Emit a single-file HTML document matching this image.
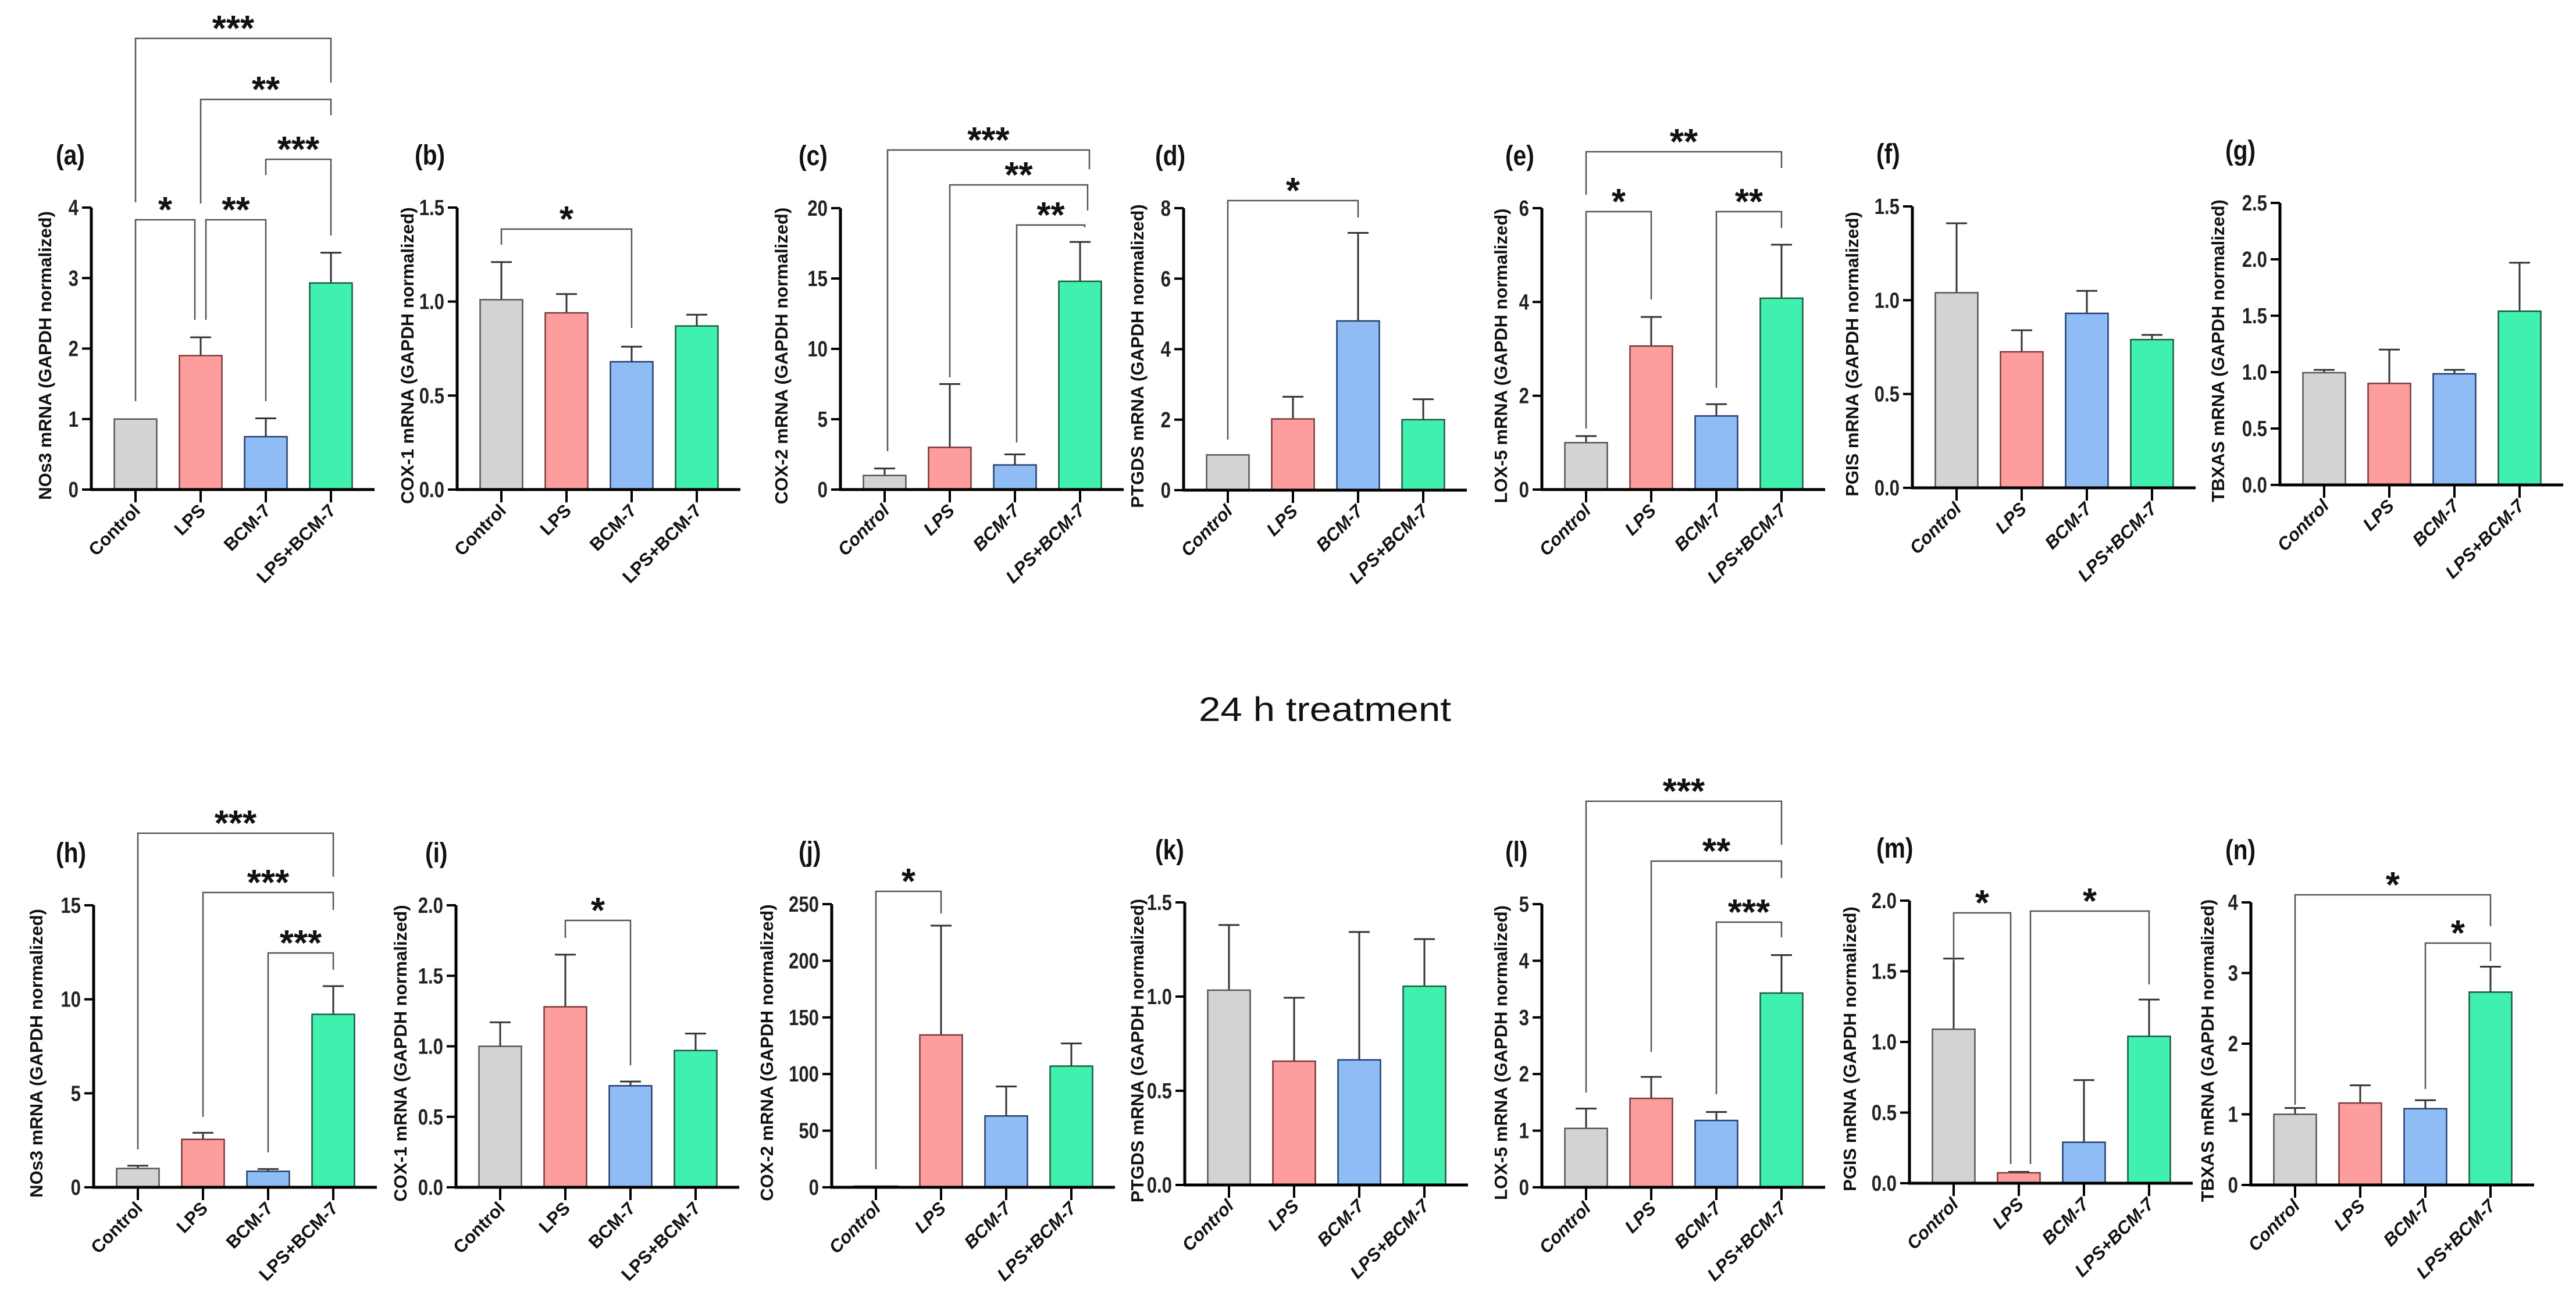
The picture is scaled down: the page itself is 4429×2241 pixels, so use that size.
<!DOCTYPE html>
<html><head><meta charset="utf-8"><title>mRNA expression panels</title>
<style>html,body{margin:0;padding:0;background:#fff;}svg{display:block;font-family:"Liberation Sans",Arial,sans-serif;}</style>
</head><body>
<svg id="fig" width="4429" height="2241" viewBox="0 0 4429 2241" xmlns="http://www.w3.org/2000/svg">
<rect width="4429" height="2241" fill="#fff"/>
<text x="2061" y="1240" font-size="58" fill="#111" textLength="434" lengthAdjust="spacingAndGlyphs">24 h treatment</text>
</svg>
<script>
const categories = ["Control","LPS","BCM-7","LPS+BCM-7"];
// values / error tops (null = no error bar)
const valsA = [1.0, 1.9, 0.75, 2.93];   const errA = [null, 2.16, 1.01, 3.36];
const valsB = [1.01, 0.94, 0.68, 0.87]; const errB = [1.21, 1.04, 0.76, 0.93];
const valsC = [1.0, 3.0, 1.75, 14.8];   const errC = [1.5, 7.5, 2.5, 17.6];
const valsD = [1.0, 2.02, 4.8, 2.0];    const errD = [null, 2.65, 7.3, 2.58];
const valsE = [1.0, 3.06, 1.57, 4.08];  const errE = [1.14, 3.68, 1.82, 5.22];
const valsF = [1.04, 0.725, 0.93, 0.79];const errF = [1.41, 0.84, 1.05, 0.815];
const valsG = [0.995, 0.90, 0.985, 1.54];const errG = [1.02, 1.2, 1.02, 1.97];
const valsH = [1.0, 2.55, 0.85, 9.2];   const errH = [1.15, 2.9, 0.97, 10.7];
const valsI = [1.0, 1.28, 0.72, 0.97];  const errI = [1.17, 1.65, 0.75, 1.09];
const valsJ = [1.0, 134.5, 63, 107];    const errJ = [null, 231, 89, 127];
const valsK = [1.034, 0.657, 0.664, 1.055]; const errK = [1.38, 0.994, 1.343, 1.305];
const valsL = [1.04, 1.57, 1.18, 3.43]; const errL = [1.39, 1.95, 1.33, 4.1];
const valsM = [1.09, 0.074, 0.29, 1.04];const errM = [1.59, 0.08, 0.73, 1.30];
const valsN = [1.0, 1.16, 1.08, 2.73];  const errN = [1.09, 1.41, 1.2, 3.09];
const ticksA = [0,1,2,3,4];           const tickLabelsA = ["0","1","2","3","4"];
const ticks15 = [0,0.5,1.0,1.5];      const tickLabels15 = ["0.0","0.5","1.0","1.5"];
const ticksC = [0,5,10,15,20];        const tickLabelsC = ["0","5","10","15","20"];
const ticksD = [0,2,4,6,8];           const tickLabelsD = ["0","2","4","6","8"];
const ticksE = [0,2,4,6];             const tickLabelsE = ["0","2","4","6"];
const ticksG = [0,0.5,1,1.5,2,2.5];   const tickLabelsG = ["0.0","0.5","1.0","1.5","2.0","2.5"];
const ticksH = [0,5,10,15];           const tickLabelsH = ["0","5","10","15"];
const ticks20 = [0,0.5,1,1.5,2];      const tickLabels20 = ["0.0","0.5","1.0","1.5","2.0"];
const ticksJ = [0,50,100,150,200,250];const tickLabelsJ = ["0","50","100","150","200","250"];
const ticksL = [0,1,2,3,4,5];         const tickLabelsL = ["0","1","2","3","4","5"];
const ticksN = [0,1,2,3,4];           const tickLabelsN = ["0","1","2","3","4"];

const fills = ["#d3d3d3","#fe9d9d","#8fbcf5","#40f0ae"];
const strokes = ["#555","#7a3a3a","#23406e","#1d5a40"];
const NS = "http://www.w3.org/2000/svg";
const svg = document.getElementById("fig");
function mk(tag, attrs, parent){const e=document.createElementNS(NS,tag);for(const k in attrs)e.setAttribute(k,attrs[k]);(parent||svg).appendChild(e);return e;}

const panels = [
 {id:"a",ax:157,y0:842,yt:357,ticks:ticksA,tl:tickLabelsA,vals:valsA,errs:errA,yl:"NOs3 mRNA (GAPDH normalized)",ylx:77,lx:96,it:false,
  br:[[0,1,378,690,550,"*",0,-10],[1,2,378,550,690,"**",9,0],[2,3,274,301,405,"***",0,0],[1,3,171,350,198,"**",0,0],[0,3,66,348,142,"***",0,0]]},
 {id:"b",ax:786,y0:842,yt:357,ticks:ticks15,tl:tickLabels15,vals:valsB,errs:errB,yl:"COX-1 mRNA (GAPDH normalized)",ylx:700,lx:713,it:false,
  br:[[0,2,394,421,564,"*",0,0]]},
 {id:"c",ax:1445,y0:842,yt:358,ticks:ticksC,tl:tickLabelsC,vals:valsC,errs:errC,yl:"COX-2 mRNA (GAPDH normalized)",ylx:1343,lx:1373,it:true,
  br:[[2,3,387,761,391,"**",3,8],[1,3,318,649,362,"**",0,13],[0,3,258,776,291,"***",5,16]]},
 {id:"d",ax:2035,y0:843,yt:358,ticks:ticksD,tl:tickLabelsD,vals:valsD,errs:errD,yl:"PTGDS mRNA (GAPDH normalized)",ylx:1955,lx:1986,it:true,
  br:[[0,2,345,756,374,"*",0,0]]},
 {id:"e",ax:2651,y0:842,yt:358,ticks:ticksE,tl:tickLabelsE,vals:valsE,errs:errE,yl:"LOX-5 mRNA (GAPDH normalized)",ylx:2580,lx:2588,it:true,
  br:[[0,1,364,737,515,"*",0,0],[2,3,364,667,392,"**",0,0],[0,3,261,335,289,"**",0,0]]},
 {id:"f",ax:3288,y0:839,yt:355,ticks:ticks15,tl:tickLabels15,vals:valsF,errs:errF,yl:"PGIS mRNA (GAPDH normalized)",ylx:3184,lx:3226,it:true,br:[]},
 {id:"g",ax:3920,y0:834,yt:349,ticks:ticksG,tl:tickLabelsG,vals:valsG,errs:errG,yl:"TBXAS mRNA (GAPDH normalized)",ylx:3813,lx:3826,it:true,br:[]},
 {id:"h",ax:161,y0:2042,yt:1557,ticks:ticksH,tl:tickLabelsH,vals:valsH,errs:errH,yl:"NOs3 mRNA (GAPDH normalized)",ylx:62,lx:96,it:false,
  br:[[2,3,1639,1982,1668,"***",0,0],[1,3,1535,1921,1565,"***",0,0],[0,3,1433,1977,1508,"***",0,0]]},
 {id:"i",ax:784,y0:2042,yt:1557,ticks:ticks20,tl:tickLabels20,vals:valsI,errs:errI,yl:"COX-1 mRNA (GAPDH normalized)",ylx:688,lx:731,it:false,
  br:[[1,2,1583,1613,1832,"*",0,0]]},
 {id:"j",ax:1430,y0:2042,yt:1555,ticks:ticksJ,tl:tickLabelsJ,vals:valsJ,errs:errJ,yl:"COX-2 mRNA (GAPDH normalized)",ylx:1318,lx:1373,it:true,
  br:[[0,1,1533,2011,1571,"*",0,0]]},
 {id:"k",ax:2037,y0:2038,yt:1552,ticks:ticks15,tl:tickLabels15,vals:valsK,errs:errK,yl:"PTGDS mRNA (GAPDH normalized)",ylx:1955,lx:1986,it:true,br:[]},
 {id:"l",ax:2651,y0:2042,yt:1555,ticks:ticksL,tl:tickLabelsL,vals:valsL,errs:errL,yl:"LOX-5 mRNA (GAPDH normalized)",ylx:2580,lx:2588,it:true,
  br:[[2,3,1586,1882,1612,"***",0,0],[1,3,1481,1809,1510,"**",0,0],[0,3,1378,1879,1453,"***",0,0]]},
 {id:"m",ax:3283,y0:2035,yt:1549,ticks:ticks20,tl:tickLabels20,vals:valsM,errs:errM,yl:"PGIS mRNA (GAPDH normalized)",ylx:3180,lx:3226,it:true,
  br:[[0,1,1570,1654,2002,"*",0,-14],[1,3,1567,2002,1693,"*",20,0]]},
 {id:"n",ax:3870,y0:2038,yt:1552,ticks:ticksN,tl:tickLabelsN,vals:valsN,errs:errN,yl:"TBXAS mRNA (GAPDH normalized)",ylx:3795,lx:3826,it:true,
  br:[[0,3,1539,1900,1593,"*",0,0],[2,3,1622,1873,1653,"*",0,0]]}
];

panels.forEach(p=>{
  const g = mk("g",{});
  
  
  const ymax = p.ticks[p.ticks.length-1];
  const yS = v => p.y0 - (v/ymax)*(p.y0-p.yt);
  const xS = i => p.ax + 76 + i*112;
  const xEnd = xS(categories.length-1) + 75;
  p.vals.forEach((v,i)=>{
    const cx = xS(i);
    const e = p.errs[i];
    if(e!==null){
      const el = mk("path",{d:`M${cx},${yS(v)}V${yS(e)}M${cx-18},${yS(e)}H${cx+18}`,stroke:"#333","stroke-width":3,fill:"none"},g);
      
      
    }
    const r = mk("rect",{x:cx-36.5,y:yS(v),width:73,height:Math.max(0,p.y0-yS(v)),fill:fills[i],stroke:strokes[i],"stroke-width":2.5},g);
    
    
  });
  const ya = mk("path",{d:`M${p.ax},${p.y0+2}V${p.yt}`,stroke:"#000","stroke-width":5,fill:"none"},g);
  
  
  const xa = mk("path",{d:`M${p.ax-2},${p.y0}H${xEnd}`,stroke:"#000","stroke-width":5,fill:"none"},g);
  
  
  p.ticks.forEach((t,k)=>{
    const y = yS(t);
    mk("path",{d:`M${p.ax-16},${y}H${p.ax}`,stroke:"#000","stroke-width":4},g);
    const tx = mk("text",{transform:`translate(${p.ax-22},${y+13}) scale(0.82,1)`,"text-anchor":"end","font-size":38,"font-weight":"bold",fill:"#222"},g);
    tx.textContent = p.tl[k];
    
    
  });
  categories.forEach((c,i)=>{
    const cx = xS(i);
    mk("path",{d:`M${cx},${p.y0}V${p.y0+22}`,stroke:"#000","stroke-width":4},g);
    const tx = mk("text",{transform:`translate(${cx+10},${p.y0+38}) rotate(-45)`,"text-anchor":"end","font-size":31,"font-weight":"bold","font-style":p.it?"italic":"normal",fill:"#111"},g);
    tx.textContent = c;
    
    
  });
  const yl = mk("text",{transform:`translate(${p.ylx+11},${(p.y0+p.yt)/2+12}) rotate(-90)`,"text-anchor":"middle","font-size":31,"font-weight":"bold",fill:"#111"},g);
  yl.textContent = p.yl;
  
  
  const lb = mk("text",{transform:`translate(${p.lx},${p.yt-74}) scale(0.85,1)`,"font-size":48,"font-weight":"bold",fill:"#111"},g);
  lb.textContent = "(" + p.id + ")";
  
  
  p.br.forEach(b=>{
    const [i,j,ly,le,re,txt,dl,dr] = b;
    const xl = xS(i)+dl, xr = xS(j)+dr;
    const path = mk("path",{d:`M${xl},${le}V${ly}H${xr}V${re}`,stroke:"#555","stroke-width":2.5,fill:"none"},g);
    
    
    const st = mk("text",{x:(xl+xr)/2,y:ly+4,"text-anchor":"middle","font-size":62,"font-weight":"bold",fill:"#111"},g);
    st.textContent = txt;
    
    
  });
});
</script>
</body></html>
